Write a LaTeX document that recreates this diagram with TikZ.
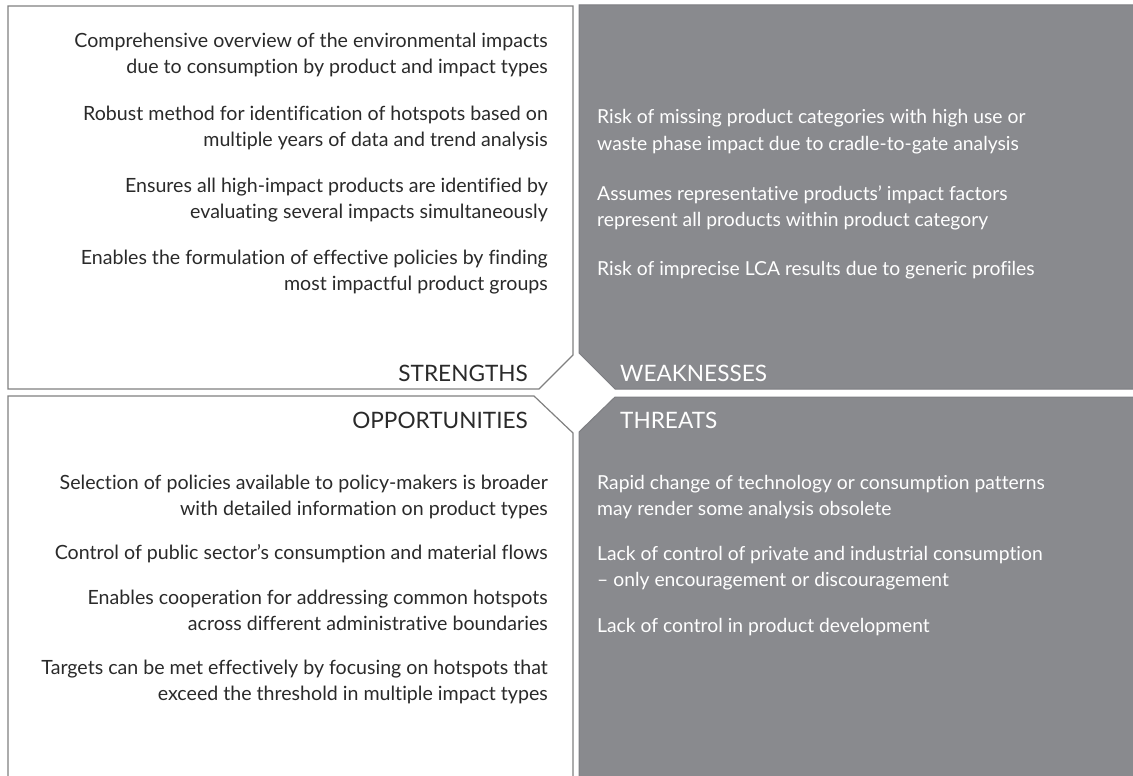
\documentclass[tikz,border=0pt]{standalone}
\usepackage{fontspec}
\setmainfont{Lato}[Ligatures={NoCommon,NoContextual}]
\definecolor{panelgray}{HTML}{898A8E}
\definecolor{paneledge}{HTML}{7D7E82}
\definecolor{frameline}{HTML}{808080}
\definecolor{inktext}{HTML}{2A2A2A}
\tikzset{
  lightpanel/.style={draw=frameline, line width=1.2pt, fill=white},
  darkpanel/.style={draw=paneledge, line width=1pt, fill=panelgray},
  bodyleft/.style={anchor=base east, inner sep=0pt, text=inktext, font=\fontsize{19.6}{23}\selectfont},
  bodyright/.style={anchor=base west, inner sep=0pt, text=white, font=\fontsize{19.3}{23}\selectfont},
  headleft/.style={anchor=base east, inner sep=0pt, text=inktext, font=\fontsize{22.6}{26}\selectfont},
  headright/.style={anchor=base west, inner sep=0pt, text=white, font=\fontsize{22.6}{26}\selectfont}
}
\begin{document}
\begin{tikzpicture}[x=1pt,y=-1pt]
\useasboundingbox (0,0) rectangle (1133,776);
\clip (0,0) rectangle (1133,776);

% four panels with the cut corners around the centre
\draw[lightpanel] (8,6) -- (573,6) -- (573,355) -- (539,389) -- (8,389) -- cycle;
\draw[lightpanel] (8,790) -- (8,396) -- (534,396) -- (573,433) -- (573,790);
\draw[darkpanel] (579,5) -- (1145,5) -- (1145,389) -- (615,389) -- (579,353) -- cycle;
\draw[darkpanel] (615,397) -- (1145,397) -- (1145,790) -- (579,790) -- (579,432) -- cycle;

% strengths
\node[bodyleft] (s1a) at (548,48) {Comprehensive overview of the environmental impacts};
\node[bodyleft] (s1b) at (548,74) {due to consumption by product and impact types};
\node[bodyleft] (s2a) at (548,120) {Robust method for identification of hotspots based on};
\node[bodyleft] (s2b) at (548,146) {multiple years of data and trend analysis};
\node[bodyleft] (s3a) at (548,192) {Ensures all high-impact products are identified by};
\node[bodyleft] (s3b) at (548,218) {evaluating several impacts simultaneously};
\node[bodyleft] (s4a) at (548,264) {Enables the formulation of effective policies by finding};
\node[bodyleft] (s4b) at (548,290) {most impactful product groups};
\node[headleft] (sh) at (528,381) {STRENGTHS};

% weaknesses
\node[bodyright] (w1a) at (597,124) {Risk of missing product categories with high use or};
\node[bodyright] (w1b) at (597,150) {waste phase impact due to cradle-to-gate analysis};
\node[bodyright] (w2a) at (597,200) {Assumes representative products’ impact factors};
\node[bodyright] (w2b) at (597,226) {represent all products within product category};
\node[bodyright] (w3a) at (597,275) {Risk of imprecise LCA results due to generic profiles};
\node[headright] (wh) at (620,381) {WEAKNESSES};

% opportunities
\node[headleft] (oh) at (528,428) {OPPORTUNITIES};
\node[bodyleft] (o1a) at (548,489) {Selection of policies available to policy-makers is broader};
\node[bodyleft] (o1b) at (548,515) {with detailed information on product types};
\node[bodyleft] (o2a) at (548,559) {Control of public sector’s consumption and material flows};
\node[bodyleft] (o3a) at (548,604) {Enables cooperation for addressing common hotspots};
\node[bodyleft] (o3b) at (548,630) {across different administrative boundaries};
\node[bodyleft] (o4a) at (548,674) {Targets can be met effectively by focusing on hotspots that};
\node[bodyleft] (o4b) at (548,700) {exceed the threshold in multiple impact types};

% threats
\node[headright] (th) at (620,428) {THREATS};
\node[bodyright] (t1a) at (597,489) {Rapid change of technology or consumption patterns};
\node[bodyright] (t1b) at (597,515) {may render some analysis obsolete};
\node[bodyright] (t2a) at (597,560) {Lack of control of private and industrial consumption};
\node[bodyright] (t2b) at (597,586) {– only encouragement or discouragement};
\node[bodyright] (t3a) at (597,632) {Lack of control in product development};
\end{tikzpicture}
\end{document}
